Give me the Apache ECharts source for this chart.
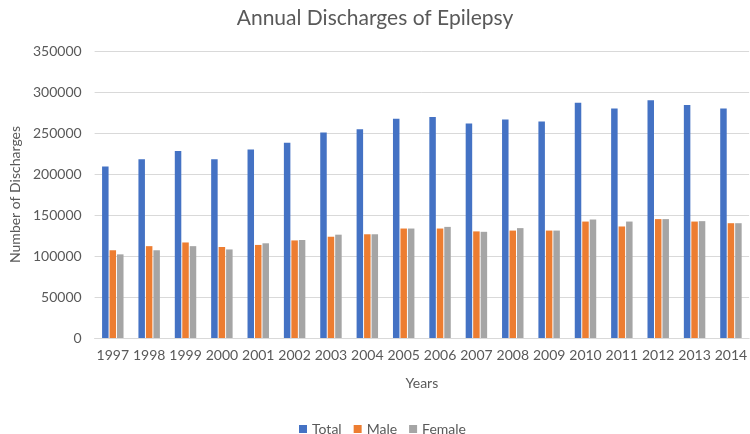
<!DOCTYPE html>
<html>
<head>
<meta charset="utf-8">
<script src="https://cdn.jsdelivr.net/npm/echarts@6/dist/echarts.min.js"></script>
<style>
  html, body { margin: 0; padding: 0; background: #fff; }
  #chart { width: 750px; height: 434px; }
</style>
</head>
<body>
<div id="chart"></div>
<script>
var years = ['1997', '1998', '1999', '2000', '2001', '2002', '2003', '2004', '2005',
  '2006', '2007', '2008', '2009', '2010', '2011', '2012', '2013', '2014']
var totalData = [209000, 218000, 228000, 218000, 230000, 238000, 250500, 254500, 267500,
  269500, 261500, 266500, 264000, 287000, 280000, 290000, 284000, 280000]
var maleData = [107000, 112000, 116500, 111000, 113500, 119000, 123500, 126500, 133500,
  133500, 130000, 131000, 131000, 142000, 136000, 145000, 142000, 140000]
var femaleData = [102000, 107000, 112000, 108000, 115500, 119500, 126000, 126500, 133500,
  135500, 129500, 134000, 131000, 144500, 142000, 145000, 142500, 140000]
var yTicks = [0, 50000, 100000, 150000, 200000, 250000, 300000, 350000]

var txt = '#595959'
var font = 'Lato'
var chart = echarts.init(document.getElementById('chart'))
chart.setOption({
  backgroundColor: '#fff',
  animation: false,
  textStyle: { fontFamily: font },
  title: {
    text: 'Annual Discharges of Epilepsy',
    left: 'center',
    top: 3,
    textStyle: { color: txt, fontSize: 21, fontWeight: 'normal', fontFamily: font }
  },
  legend: {
    top: 417,
    left: 294,
    itemWidth: 8,
    itemHeight: 8,
    itemGap: 12,
    icon: 'rect',
    textStyle: { color: txt, fontSize: 14, fontFamily: font },
    data: ['Total', 'Male', 'Female']
  },
  grid: {
    left: 92,
    top: 51,
    width: 661,
    height: 287
  },
  xAxis: {
    type: 'category',
    data: years,
    name: 'Years',
    nameLocation: 'middle',
    nameGap: 38,
    nameTextStyle: { color: txt, fontSize: 14, fontFamily: font },
    axisLine: { lineStyle: { color: '#D9D9D9' } },
    axisTick: { show: false },
    axisLabel: { color: txt, fontSize: 14, margin: 10, fontFamily: font, interval: 0 }
  },
  yAxis: {
    type: 'value',
    min: yTicks[0],
    max: yTicks[yTicks.length - 1],
    interval: 50000,
    name: 'Number of Discharges',
    nameLocation: 'middle',
    nameGap: 66,
    nameTextStyle: { color: txt, fontSize: 14, fontFamily: font },
    axisLine: { show: false },
    axisTick: { show: false },
    axisLabel: {
      color: txt, fontSize: 14, margin: 13, fontFamily: font,
      formatter: function(v) { return String(v) }
    },
    splitLine: { lineStyle: { color: '#D9D9D9' } }
  },
  series: [
    { name: 'Total', type: 'bar', data: totalData, barWidth: 6.5, barGap: '15%',
      itemStyle: { color: '#4472C4' } },
    { name: 'Male', type: 'bar', data: maleData, barWidth: 6.5, barGap: '15%',
      itemStyle: { color: '#ED7D31' } },
    { name: 'Female', type: 'bar', data: femaleData, barWidth: 6.5, barGap: '15%',
      itemStyle: { color: '#A5A5A5' } }
  ]
})
</script>
</body>
</html>
